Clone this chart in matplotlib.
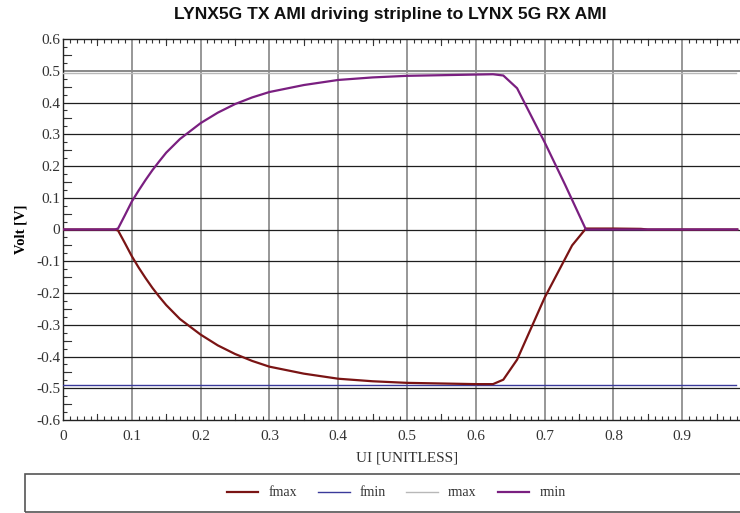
import matplotlib
matplotlib.use("Agg")
import matplotlib.pyplot as plt
from matplotlib.ticker import MultipleLocator
from matplotlib.patches import Rectangle

# eye contour data, UI vs volts
ui_rise = [0.0, 0.075, 0.08, 0.09, 0.1, 0.11, 0.12, 0.13, 0.14, 0.15, 0.17, 0.2,
           0.225, 0.25, 0.275, 0.3, 0.35, 0.4, 0.45, 0.5, 0.55, 0.6, 0.625, 0.64,
           0.66, 0.7, 0.73, 0.76, 0.8, 0.9, 0.98]
rmin = [0.0, 0.0, 0.003, 0.045, 0.088, 0.123, 0.156, 0.187, 0.215, 0.242, 0.285, 0.335,
        0.368, 0.395, 0.416, 0.433, 0.455, 0.471, 0.479, 0.484, 0.486, 0.488, 0.489, 0.485,
        0.445, 0.275, 0.14, 0.0, 0.0, 0.0, 0.0]

ui_fall = [0.0, 0.075, 0.08, 0.09, 0.1, 0.11, 0.12, 0.13, 0.14, 0.15, 0.17, 0.2,
           0.225, 0.25, 0.275, 0.3, 0.35, 0.4, 0.45, 0.5, 0.55, 0.6, 0.625, 0.64,
           0.66, 0.7, 0.74, 0.76, 0.8, 0.84, 0.85, 0.98]
fmax = [0.0, 0.0, -0.003, -0.043, -0.084, -0.12, -0.153, -0.184, -0.212, -0.238, -0.282, -0.331,
        -0.365, -0.392, -0.414, -0.432, -0.454, -0.47, -0.478, -0.483, -0.485, -0.487, -0.487, -0.473,
        -0.41, -0.215, -0.05, 0.003, 0.003, 0.002, 0.0, 0.0]

ui_flat = [0.0, 0.978]
fmin = [-0.49, -0.49]
rmax = [0.493, 0.493]

title = "LYNX5G TX AMI driving stripline to LYNX 5G RX AMI"
serif = "Liberation Serif"

fig = plt.figure(figsize=(7.4, 5.13), dpi=100)
ax = fig.add_axes([63 / 740, 1 - 420 / 513, 688 / 740, 381 / 513])

ax.plot(ui_flat, rmax, color="#b8b8b8", lw=1.0, label="rmax", zorder=3)
ax.plot(ui_flat, fmin, color="#3a3a9a", lw=1.0, label="fmin", zorder=3)
ax.plot(ui_fall, fmax, color="#7a1414", lw=1.6, label="fmax", zorder=4)
ax.plot(ui_rise, rmin, color="#7a1f80", lw=1.6, label="rmin", zorder=5)

ax.set_xlim(0, 1.0)
ax.set_ylim(-0.6, 0.6)

ax.xaxis.set_minor_locator(MultipleLocator(0.01))
ax.yaxis.set_minor_locator(MultipleLocator(0.025))

xt = [round(0.1 * i, 1) for i in range(10)]
ax.set_xticks(xt)
ax.set_xticklabels(["0" if v == 0 else f"{v:g}" for v in xt])
yt = [round(-0.6 + 0.1 * i, 1) for i in range(13)]
ax.set_yticks(yt)
ax.set_yticklabels(["0" if v == 0 else f"{v:.1f}" for v in yt])

ax.tick_params(which="both", direction="in", top=True, right=False,
               labelsize=11, color="#333333")
ax.tick_params(axis="x", pad=7)
ax.tick_params(axis="y", pad=2)
ax.tick_params(which="major", length=0)
ax.tick_params(which="minor", length=3, width=0.8)
for lab in ax.get_xticklabels() + ax.get_yticklabels():
    lab.set_fontfamily(serif)
    lab.set_color("#333333")

# medium ticks at the half steps
for x in [0.05 + 0.1 * i for i in range(10)]:
    ax.plot([x, x], [-0.6, -0.6 + 0.02], color="#333333", lw=0.8, clip_on=False)
    ax.plot([x, x], [0.6, 0.6 - 0.02], color="#333333", lw=0.8, clip_on=False)
for y in [-0.55 + 0.1 * i for i in range(12)]:
    ax.plot([0, 0.012], [y, y], color="#333333", lw=0.8)

for x in xt[1:]:
    ax.axvline(x, color="#7a7a7a", lw=1.1, zorder=1)
for y in yt[1:-1]:
    ax.axhline(y, color="#888888" if abs(y - 0.5) < 1e-6 else "#1e1e1e",
               lw=1.4 if abs(y - 0.5) < 1e-6 else 0.9, zorder=1)

for s in ["left", "bottom", "top"]:
    ax.spines[s].set_color("#222222")
    ax.spines[s].set_linewidth(1.0)

ax.set_xlabel("UI [UNITLESS]", family=serif, fontsize=11, labelpad=6, color="#333333")
ax.set_ylabel("Volt [V]", family=serif, fontsize=10.5, fontweight="bold", labelpad=6)

fig.text(0.528, 0.972, title, ha="center", va="center", fontsize=12.6,
         fontweight="bold", family="Liberation Sans", color="#111111")

# legend box along the bottom
fig.patches.append(Rectangle((25 / 740, 1 / 513), 0.98, 38 / 513,
                             transform=fig.transFigure, fill=False,
                             edgecolor="#555555", lw=1.2))
handles, labels = ax.get_legend_handles_labels()
order = [2, 1, 0, 3]
leg = fig.legend([handles[i] for i in order], [labels[i] for i in order],
                 loc="center", bbox_to_anchor=(396 / 740, 20 / 513), ncol=4,
                 frameon=False, prop={"family": serif, "size": 10},
                 handlelength=2.3, columnspacing=1.5, handletextpad=0.7)
for t in leg.get_texts():
    t.set_color("#333333")

fig.savefig("out.png", dpi=100)
